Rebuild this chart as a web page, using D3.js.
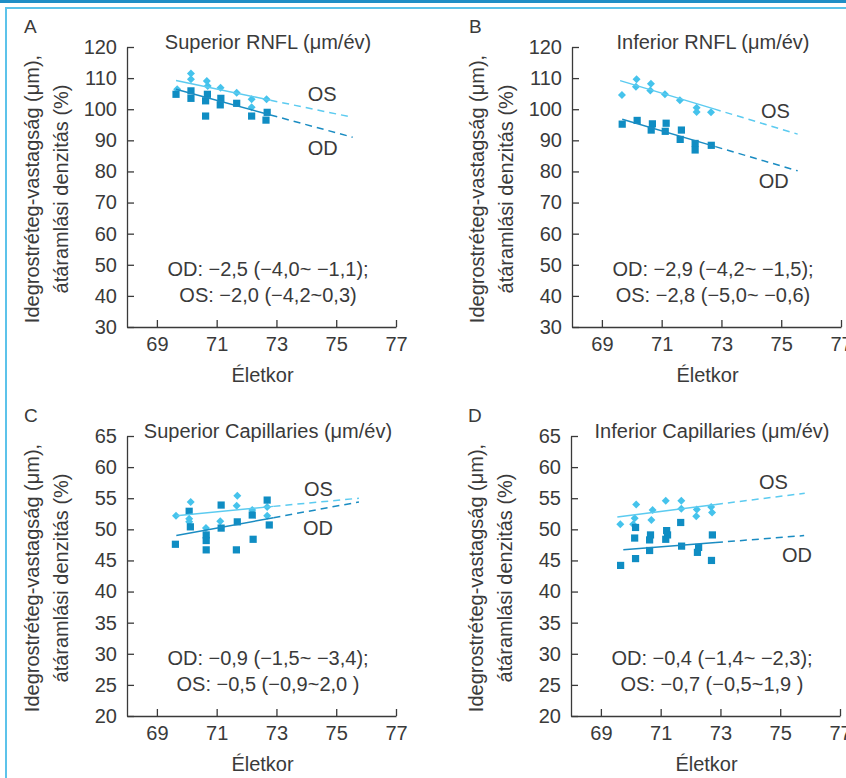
<!DOCTYPE html>
<html>
<head>
<meta charset="utf-8">
<script src="https://cdn.jsdelivr.net/npm/d3@7"></script>
<style>
body { margin: 0; background: #fff; }
svg { display: block; }
text { font-family: "Liberation Sans", Arial, sans-serif; fill: #3a3a3a; }
</style>
</head>
<body>
<svg id="chart" width="846" height="778"></svg>
<script>
// x axis (age) ticks, shared by all panels
var ageTicks = [69, 71, 73, 75, 77];
var rnflTicks = [30, 40, 50, 60, 70, 80, 90, 100, 110, 120];
var capTicks = [20, 25, 30, 35, 40, 45, 50, 55, 60, 65];

// points: [age, value]
var supRnflOS = [[69.68,106.4],[70.14,111.5],[70.14,109.6],[70.67,109.1],[70.7,107.5],[71.13,106.9],[71.67,105.3],[72.17,103.2],[72.17,100.6],[72.67,103.2]];
var supRnflOD = [[69.64,104.8],[70.14,105.9],[70.14,103.5],[70.69,104.8],[70.63,102.7],[70.63,97.8],[71.14,103.5],[71.12,101.4],[71.67,101.9],[72.17,97.8],[72.69,99.0],[72.65,96.5]];
var infRnflOS = [[69.67,104.6],[70.16,109.6],[70.14,107.2],[70.64,108.2],[70.62,106.0],[71.11,104.8],[71.61,102.9],[72.17,100.5],[72.17,99.1],[72.65,99.0]];
var infRnflOD = [[69.68,95.2],[70.18,96.4],[70.69,95.3],[70.65,93.3],[71.15,95.5],[71.12,92.9],[71.66,93.3],[71.62,90.3],[72.12,89.0],[72.12,86.9],[72.66,88.4]];
var supCapOS = [[69.64,52.2],[70.13,54.4],[70.08,51.7],[70.08,51.2],[70.64,50.2],[71.12,51.3],[71.69,55.4],[71.67,53.8],[72.19,53.1],[72.69,53.6],[72.69,52.2]];
var supCapOD = [[69.62,47.6],[70.08,52.9],[70.12,50.4],[70.65,49.1],[70.65,48.2],[70.65,46.7],[71.15,53.9],[71.15,50.2],[71.69,51.2],[71.66,46.7],[72.19,52.3],[72.22,48.4],[72.69,54.7],[72.76,50.7]];
var infCapOS = [[69.65,50.8],[70.08,50.8],[70.13,51.8],[70.18,54.0],[70.69,51.5],[70.73,53.1],[71.17,54.6],[71.69,54.6],[71.69,53.3],[72.21,53.2],[72.19,52.1],[72.69,53.6],[72.72,52.7]];
var infCapOD = [[69.66,44.2],[70.16,50.3],[70.13,48.6],[70.16,45.3],[70.66,49.1],[70.63,48.3],[70.63,46.6],[71.2,49.8],[71.23,49.1],[71.17,48.4],[71.67,51.1],[71.7,47.3],[72.27,47.1],[72.23,46.3],[72.73,49.1],[72.7,45.0]];

// regression lines: [start age, start value, end of solid part, end age, end value]
var supRnflFitOS = [69.64, 109.2, 72.8, 75.55, 97.4];
var supRnflFitOD = [69.64, 106.4, 72.8, 75.55, 91.0];
var infRnflFitOS = [69.61, 109.2, 72.75, 75.55, 92.0];
var infRnflFitOD = [69.68, 96.8, 72.8, 75.55, 80.2];
var supCapFitOS = [69.65, 52.2, 72.9, 75.76, 55.0];
var supCapFitOD = [69.65, 49.0, 72.9, 75.76, 54.4];
var infCapFitOS = [69.55, 52.0, 72.85, 75.82, 55.8];
var infCapFitOD = [69.75, 46.7, 72.85, 75.8, 49.0];

// OS / OD line labels: [age, value] of the label start
var supRnflLabels = [[74.05, 102.6], [74.05, 85.3]];
var infRnflLabels = [[74.32, 97.2], [74.25, 74.7]];
var supCapLabels = [[73.92, 55.4], [73.89, 49.1]];
var infCapLabels = [[74.29, 56.5], [75.06, 44.75]];

var supRnflNotes = ["OD: \u22122,5 (\u22124,0~ \u22121,1);", "OS: \u22122,0 (\u22124,2~0,3)"];
var infRnflNotes = ["OD: \u22122,9 (\u22124,2~ \u22121,5);", "OS: \u22122,8 (\u22125,0~ \u22120,6)"];
var supCapNotes = ["OD: \u22120,9 (\u22121,5~ \u22123,4);", "OS: \u22120,5 (\u22120,9~2,0 )"];
var infCapNotes = ["OD: \u22120,4 (\u22121,4~ \u22122,3);", "OS: \u22120,7 (\u22120,5~1,9 )"];

var panels = [
    {letter: "A", title: "Superior RNFL (\u03bcm/\u00e9v)", left: 127, top: 47, yDomain: [30, 120], yTicks: rnflTicks,
     os: supRnflOS, od: supRnflOD, fitOS: supRnflFitOS, fitOD: supRnflFitOD, labels: supRnflLabels, notes: supRnflNotes},
    {letter: "B", title: "Inferior RNFL (\u03bcm/\u00e9v)", left: 572, top: 47, yDomain: [30, 120], yTicks: rnflTicks,
     os: infRnflOS, od: infRnflOD, fitOS: infRnflFitOS, fitOD: infRnflFitOD, labels: infRnflLabels, notes: infRnflNotes},
    {letter: "C", title: "Superior Capillaries (\u03bcm/\u00e9v)", left: 127, top: 436, yDomain: [20, 65], yTicks: capTicks,
     os: supCapOS, od: supCapOD, fitOS: supCapFitOS, fitOD: supCapFitOD, labels: supCapLabels, notes: supCapNotes},
    {letter: "D", title: "Inferior Capillaries (\u03bcm/\u00e9v)", left: 571, top: 436, yDomain: [20, 65], yTicks: capTicks,
     os: infCapOS, od: infCapOD, fitOS: infCapFitOS, fitOD: infCapFitOD, labels: infCapLabels, notes: infCapNotes}
];

var W = 269, H = 280;
var osColor = "#45c3ec", odColor = "#0f8dc3";
var osLine = "#5ccbf0", odLine = "#1a8cc2";

var svg = d3.select("#chart");

// frame
svg.append("rect").attr("x", 0).attr("y", 0).attr("width", 846).attr("height", 3).attr("fill", "#1f8ec6");
svg.append("path").attr("d", "M6,778V8H846").attr("fill", "none").attr("stroke", "#5cc3ea").attr("stroke-width", 2);

var diamond = d3.symbol().type(d3.symbolSquare).size(32);
var square = d3.symbol().type(d3.symbolSquare).size(52);

panels.forEach(function(p) {
    var x = d3.scaleLinear().domain([68, 77]).range([p.left, p.left + W]);
    var y = d3.scaleLinear().domain(p.yDomain).range([p.top + H, p.top]);
    var g = svg.append("g");

    // axes
    var xAxis = g.append("g")
        .attr("transform", "translate(0," + (p.top + H) + ")")
        .call(d3.axisBottom(x).tickValues(ageTicks).tickSizeInner(-7).tickSizeOuter(0).tickPadding(10).tickFormat(d3.format("d")));
    var yAxis = g.append("g")
        .attr("transform", "translate(" + p.left + ",0)")
        .call(d3.axisLeft(y).tickValues(p.yTicks).tickSizeInner(-7).tickSizeOuter(0).tickPadding(10).tickFormat(d3.format("d")));
    [xAxis, yAxis].forEach(function(a) {
        a.attr("font-size", null).attr("font-family", null);
        a.selectAll("path, line").attr("stroke", "#3a3a3a").attr("stroke-width", 1.3);
        a.selectAll("text").style("font-size", "20px").attr("fill", "#3a3a3a");
    });

    // axis titles
    g.append("text")
        .attr("x", p.left + W / 2 + 1).attr("y", p.top + H + 55)
        .attr("text-anchor", "middle").style("font-size", "20px")
        .text("\u00c9letkor");
    g.append("text")
        .attr("transform", "translate(" + (p.left - 88) + "," + (p.top + H / 2 + 2) + ") rotate(-90)")
        .attr("text-anchor", "middle").style("font-size", "20px")
        .text("Idegrostr\u00e9teg-vastags\u00e1g (\u03bcm),");
    g.append("text")
        .attr("transform", "translate(" + (p.left - 59) + "," + (p.top + H / 2 + 2) + ") rotate(-90)")
        .attr("text-anchor", "middle").style("font-size", "20px")
        .text("\u00e1t\u00e1raml\u00e1si denzit\u00e1s (%)");

    // panel letter and title
    g.append("text").attr("x", p.left - 103).attr("y", p.top - 14)
        .style("font-size", "19px").text(p.letter);
    g.append("text").attr("x", p.left + 141).attr("y", p.top + 2)
        .attr("text-anchor", "middle").style("font-size", "20px").text(p.title);

    // points
    g.selectAll(".os").data(p.os).enter().append("path")
        .attr("class", "os")
        .attr("d", diamond)
        .attr("transform", function(d) { return "translate(" + x(d[0]) + "," + y(d[1]) + ") rotate(45)"; })
        .attr("fill", osColor);
    g.selectAll(".od").data(p.od).enter().append("path")
        .attr("class", "od")
        .attr("d", square)
        .attr("transform", function(d) { return "translate(" + x(d[0]) + "," + y(d[1]) + ")"; })
        .attr("fill", odColor);

    // fit lines, solid over the data, dashed beyond
    [[p.fitOS, osLine], [p.fitOD, odLine]].forEach(function(f) {
        var fit = f[0];
        var val = d3.scaleLinear().domain([fit[0], fit[3]]).range([fit[1], fit[4]]);
        g.append("line")
            .attr("x1", x(fit[0])).attr("y1", y(fit[1]))
            .attr("x2", x(fit[2])).attr("y2", y(val(fit[2])))
            .attr("stroke", f[1]).attr("stroke-width", 1.5);
        g.append("line")
            .attr("x1", x(fit[2])).attr("y1", y(val(fit[2])))
            .attr("x2", x(fit[3])).attr("y2", y(fit[4]))
            .attr("stroke", f[1]).attr("stroke-width", 1.5)
            .attr("stroke-dasharray", "7,5");
    });

    // OS / OD labels
    ["OS", "OD"].forEach(function(name, i) {
        g.append("text")
            .attr("x", x(p.labels[i][0])).attr("y", y(p.labels[i][1]))
            .style("font-size", "20px").text(name);
    });

    // slope notes
    p.notes.forEach(function(t, i) {
        g.append("text")
            .attr("x", p.left + 141).attr("y", p.top + 229 + i * 26)
            .attr("text-anchor", "middle").style("font-size", "20px").text(t);
    });
});
</script>
</body>
</html>
